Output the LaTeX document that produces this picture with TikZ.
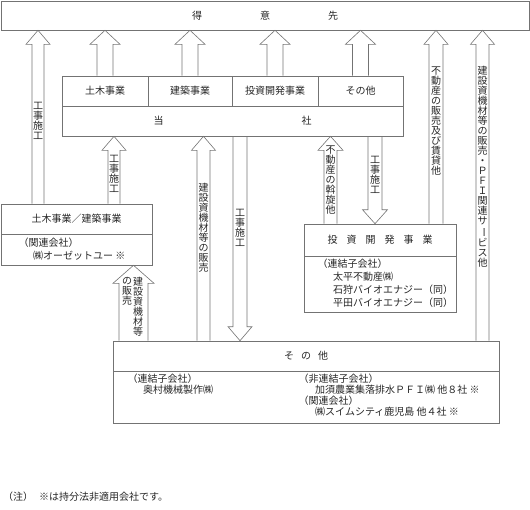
\documentclass[tikz,border=0pt]{standalone}
\usepackage{fontspec}
\setmainfont{Noto Sans CJK JP}
\usetikzlibrary{calc}
\tikzset{
  box/.style={draw=black!55,line width=.6pt,inner sep=0,text=black!85},
  txt/.style={inner sep=0,text=black!85,anchor=west},
  vlab/.style={inner sep=0,align=center,text=black!85},
  blk/.style={draw=black!55,line width=.6pt,line join=miter}
}
% hollow block arrow: foot, tip node, half shaft, half head, head length
\newcommand{\blkarrow}[5]{%
  \draw[blk] let \p1=(#1), \p2=(#2), \n1={#5*sign(\y2-\y1)} in
    (\x1-#3pt,\y1) -- (\x1-#3pt,\y2-\n1*1pt) -- (\x1-#4pt,\y2-\n1*1pt) -- (\x1,\y2)
    -- (\x1+#4pt,\y2-\n1*1pt) -- (\x1+#3pt,\y2-\n1*1pt) -- (\x1+#3pt,\y1);}
\begin{document}
\begin{tikzpicture}
  [x=1pt,y=-1pt,font=\fontsize{10}{10}\selectfont]
  \useasboundingbox (0,0) rectangle (530,509);
  \node (tokui)[box,minimum width=528pt,minimum height=29pt] at (265,15.5) {得\hspace{58pt}意\hspace{58pt}先};
  \node (c1)[box,minimum width=86pt,minimum height=30pt] at (105,91) {土木事業};
  \node (c2)[box,minimum width=84pt,minimum height=30pt] at (190,91) {建築事業};
  \node (c3)[box,minimum width=86pt,minimum height=30pt] at (275,91) {投資開発事業};
  \node (c4)[box,minimum width=85pt,minimum height=30pt] at (360.5,91) {その他};
  \node (tosha)[box,minimum width=341pt,minimum height=30pt] at (232.5,121) {当\hspace{138pt}社};
  \node (kd)[box,minimum width=151pt,minimum height=30pt] at (76.5,219) {土木事業／建築事業};
  \node (kdsub)[box,minimum width=151pt,minimum height=31pt] at (76.5,249.5) {};
  \node (inv)[box,minimum width=152pt,minimum height=32pt] at (380,240) {投\hspace{9pt}資\hspace{9pt}開\hspace{9pt}発\hspace{9pt}事\hspace{9pt}業};
  \node (invsub)[box,minimum width=152pt,minimum height=56pt] at (380,284) {};
  \node (other)[box,minimum width=386pt,minimum height=30pt] at (306,356) {そ\hspace{7pt}の\hspace{7pt}他};
  \node (othersub)[box,minimum width=386pt,minimum height=52pt] at (306,397) {};

  \node (kdrel)[txt] at (18.5,243) {（関連会社）};
  \node (kdco)[txt] at (33,256) {㈱オーゼットユー ※};
  \node (invrel)[txt] at (317.5,264) {（連結子会社）};
  \node (invco1)[txt] at (333,277) {太平不動産㈱};
  \node (invco2)[txt] at (333,290) {石狩バイオエナジー（同）};
  \node (invco3)[txt] at (333,303) {平田バイオエナジー（同）};
  \node (othrel1)[txt] at (127.5,379) {（連結子会社）};
  \node (othco1)[txt] at (143,390) {奥村機械製作㈱};
  \node (othrel2)[txt] at (298.5,379) {（非連結子会社）};
  \node (othco2)[txt] at (315,390) {加須農業集落排水ＰＦＩ㈱ 他８社 ※};
  \node (othrel3)[txt] at (298.5,401) {（関連会社）};
  \node (othco3)[txt] at (315,412) {㈱スイムシティ鹿児島 他４社 ※};
  \node (note)[txt] at (3,497) {（注）\hspace{6pt}※は持分法非適用会社です。};

  \blkarrow{38,0 |- kd.north}{tokui.south}{6}{12}{14}
  \foreach \c in {c1,c2,c3,c4}
    {\blkarrow{\c.north}{tokui.south}{8}{15}{14}}
  \blkarrow{114,0 |- kd.north}{tosha.south}{6}{12}{14}
  \blkarrow{203.5,0 |- other.north}{tosha.south}{6.5}{12}{14}
  \blkarrow{240,0 |- tosha.south}{other.north}{7}{12}{14}
  \blkarrow{133.5,0 |- other.north}{kdsub.south}{14.5}{20.5}{18}
  \blkarrow{330.5,0 |- inv.north}{tosha.south}{6.5}{12.5}{14}
  \blkarrow{375,0 |- tosha.south}{inv.north}{7}{12.5}{14}
  \blkarrow{436,0 |- inv.north}{tokui.south}{7}{12}{14}
  \blkarrow{482.5,0 |- other.north}{tokui.south}{6.5}{12}{14}

  \node (l1)[vlab] at (38,121) {工\\事\\施\\工};
  \node (l2)[vlab] at (114,174) {工\\事\\施\\工};
  \node (l3)[vlab] at (203.5,228) {建\\設\\資\\機\\材\\等\\の\\販\\売};
  \node (l4)[vlab] at (240,228) {工\\事\\施\\工};
  \node (l5)[vlab,anchor=north] at (138,277) {建\\設\\資\\機\\材\\等};
  \node (l6)[vlab,anchor=north] at (127,277) {の\\販\\売};
  \node (l7)[vlab] at (330.5,180) {不\\動\\産\\の\\斡\\旋\\他};
  \node (l8)[vlab] at (375,175) {工\\事\\施\\工};
  \node (l9)[vlab] at (436,121) {不\\動\\産\\の\\販\\売\\及\\び\\賃\\貸\\他};
  \node (l10)[vlab] at (482.5,167) {建\\設\\資\\機\\材\\等\\の\\販\\売\\・\\Ｐ\\Ｆ\\Ｉ\\関\\連\\サ\\\rotatebox[origin=c]{-90}{ー}\\ビ\\ス\\他};
\end{tikzpicture}
\end{document}
